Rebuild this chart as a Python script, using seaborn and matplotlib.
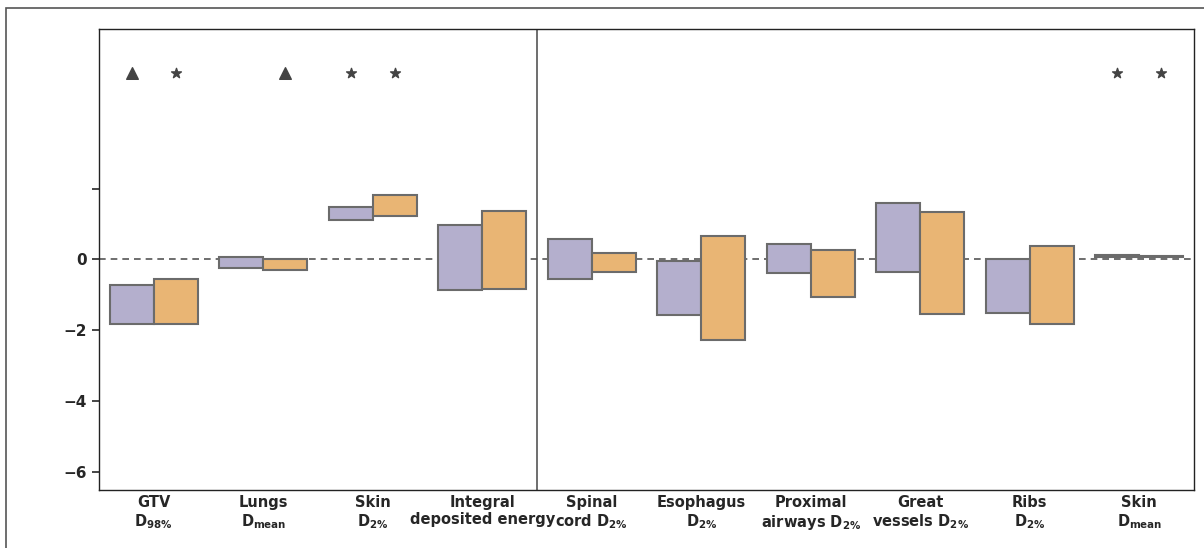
import matplotlib
matplotlib.use("Agg")
import matplotlib.pyplot as plt
import seaborn as sns
import pandas as pd
from matplotlib.patches import Rectangle

categories = [
    "GTV\n$D_{98\\%}$",
    "Lungs\n$D_{mean}$",
    "Skin\n$D_{2\\%}$",
    "Integral\ndeposited energy",
    "Spinal\ncord $D_{2\\%}$",
    "Esophagus\n$D_{2\\%}$",
    "Proximal\nairways $D_{2\\%}$",
    "Great\nvessels $D_{2\\%}$",
    "Ribs\n$D_{2\\%}$",
    "Skin\n$D_{mean}$",
]
series = ["A", "B"]

# lower / upper ends of each floating bar
low_a = [-1.81, -0.23, 1.11, -0.87, -0.55, -1.56, -0.39, -0.36, -1.52, 0.08]
high_a = [-0.72, 0.06, 1.47, 0.96, 0.57, -0.03, 0.43, 1.59, 0.00, 0.12]
low_b = [-1.81, -0.30, 1.23, -0.82, -0.35, -2.28, -1.06, -1.54, -1.82, 0.06]
high_b = [-0.55, 0.00, 1.81, 1.37, 0.18, 0.67, 0.26, 1.34, 0.37, 0.10]

# significance markers: (category index, series, marker)
sig_cat = [0, 0, 1, 2, 2, 9, 9]
sig_series = ["A", "B", "B", "A", "B", "A", "B"]
sig_marker = ["^", "*", "^", "*", "*", "*", "*"]
sig_level = 5.27

yticks = [-6, -4, -2, 0, 2]
ytick_labels = ["\u22126", "\u22124", "\u22122", "0", ""]

purple = "#b4afcd"
orange = "#e9b574"
edge = "#6b6b6b"

sns.set_style("ticks")
plt.rcParams["font.family"] = ["DejaVu Sans"]
plt.rcParams["font.weight"] = "bold"
plt.rcParams["mathtext.default"] = "bf"

df = pd.DataFrame({
    "cat": categories * 2,
    "series": ["A"] * len(categories) + ["B"] * len(categories),
    "span": [h - l for h, l in zip(high_a, low_a)] + [h - l for h, l in zip(high_b, low_b)],
})

fig = plt.figure(figsize=(12.04, 5.48), dpi=100)
ax = fig.add_axes([0.0822, 0.106, 0.9095, 0.841])

sns.barplot(
    data=df,
    x="cat",
    y="span",
    hue="series",
    order=categories,
    hue_order=series,
    palette=[purple, orange],
    saturation=1,
    edgecolor=edge,
    linewidth=1.5,
    width=0.8,
    legend=False,
    ax=ax,
)

# shift each bar so it floats from its lower end
for container, lows in zip(ax.containers, [low_a, low_b]):
    for bar, lo in zip(container, lows):
        bar.set_y(lo)

# marker positions follow the dodged bar centres
centres = {}
for container, s in zip(ax.containers, series):
    for i, bar in enumerate(container):
        centres[(i, s)] = bar.get_x() + bar.get_width() / 2

for c, s, m in zip(sig_cat, sig_series, sig_marker):
    ax.scatter(
        centres[(c, s)],
        sig_level,
        marker=m,
        s=70 if m == "^" else 55,
        color="#444444",
        zorder=5,
    )

ax.axhline(0, color="#555555", linestyle="--", linewidth=1.2, dashes=(4, 3), zorder=0)
ax.axvline(3.5, color="#555555", linewidth=1.2)

ax.set_ylim(-6.5, 6.5)
ax.set_xlim(-0.5, len(categories) - 0.5)
ax.set_yticks(yticks)
ax.set_yticklabels(ytick_labels, fontsize=11, fontweight="bold")
ax.tick_params(axis="x", length=0, pad=4)
ax.tick_params(axis="y", length=5, width=1.2)
ax.set_xticks(range(len(categories)))
ax.set_xticklabels(categories, fontsize=10.5, fontweight="bold", linespacing=1.15)
ax.set_xlabel("")
ax.set_ylabel("")

for sp in ax.spines.values():
    sp.set_visible(True)
    sp.set_linewidth(1.0)
    sp.set_color("#222222")

fig.patches.append(Rectangle(
    (6 / 1204, -0.1), 1.2, 1.1 - 8 / 548,
    transform=fig.transFigure, fill=False,
    edgecolor="#555555", linewidth=1.2,
))

fig.savefig("out.png", dpi=100)
